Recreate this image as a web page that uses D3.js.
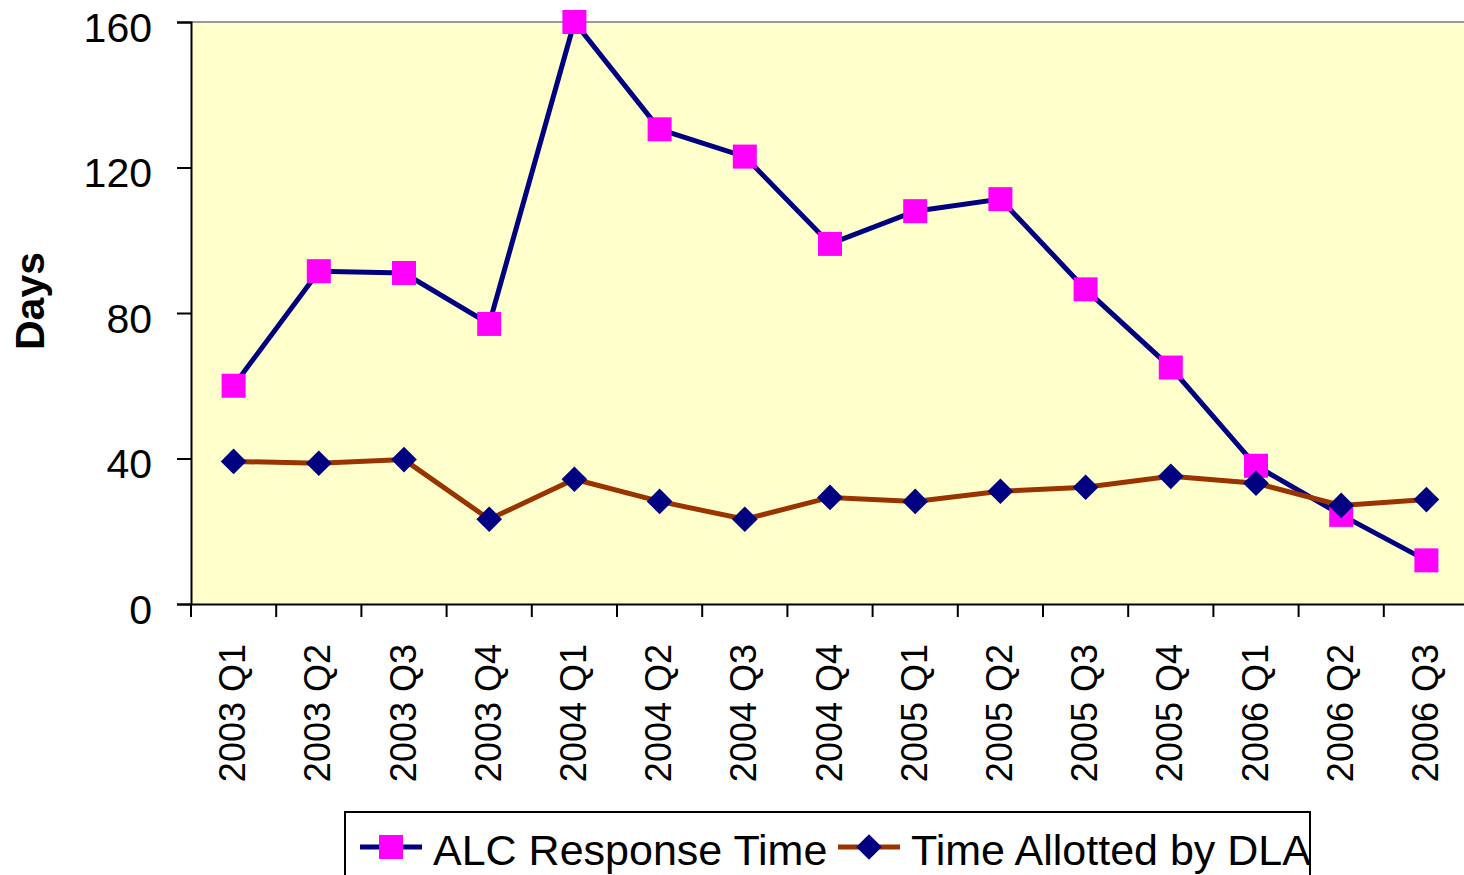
<!DOCTYPE html>
<html>
<head>
<meta charset="utf-8">
<script src="https://cdn.jsdelivr.net/npm/d3@7"></script>
<style>
  body { margin: 0; background: #fff; }
  svg { display: block; font-family: "Liberation Sans", Arial, sans-serif; }
</style>
</head>
<body>
<svg width="1464" height="875"></svg>
<script>
const quarters = ["2003 Q1","2003 Q2","2003 Q3","2003 Q4","2004 Q1","2004 Q2","2004 Q3","2004 Q4",
  "2005 Q1","2005 Q2","2005 Q3","2005 Q4","2006 Q1","2006 Q2","2006 Q3"]
const alcResponse = [60, 91.5, 91, 77, 160, 130.5, 123, 99, 108, 111.3, 86.5, 65, 38, 24.5, 12]
const dlaAllotted = [39.2, 38.7, 39.7, 23.3, 34.3, 28.2, 23.3, 29.3, 28.2, 31, 32.1, 35.1, 33.2, 27.1, 28.7]
const yTicks = [0, 40, 80, 120, 160]

const svg = d3.select("svg")
const plotLeft = 191, plotTop = 22, plotBottom = 604
const plotRight = plotLeft + 15 * 85.2

const x = d3.scaleBand().domain(quarters).range([plotLeft, plotRight])
const y = d3.scaleLinear().domain([0, 160]).range([plotBottom, plotTop])

// plot background
svg.append("rect")
  .attr("x", plotLeft).attr("y", plotTop)
  .attr("width", plotRight - plotLeft).attr("height", plotBottom - plotTop)
  .attr("fill", "#FFFFCC")
svg.append("line")
  .attr("x1", plotLeft).attr("x2", plotRight)
  .attr("y1", plotTop).attr("y2", plotTop)
  .attr("stroke", "#999").attr("stroke-width", 2)

// y axis
const yAxis = svg.append("g")
  .attr("transform", `translate(${plotLeft},0)`)
  .call(d3.axisLeft(y).tickValues(yTicks).tickSize(14).tickPadding(25))
yAxis.select(".domain").attr("stroke", "#000").attr("stroke-width", 2)
yAxis.selectAll(".tick line").attr("stroke", "#000").attr("stroke-width", 2)
yAxis.selectAll(".tick text")
  .attr("font-size", 41).attr("fill", "#000")
  .attr("font-family", "Liberation Sans, Arial, sans-serif")
  .attr("dy", "0.47em")

// x axis
const xAxis = svg.append("g")
  .attr("transform", `translate(0,${plotBottom})`)
  .call(d3.axisBottom(x).tickSize(0).tickPadding(0))
xAxis.select(".domain").attr("stroke", "#000").attr("stroke-width", 2)
xAxis.selectAll(".tick text")
  .attr("font-size", 36).attr("fill", "#000")
  .attr("font-family", "Liberation Sans, Arial, sans-serif")
  .attr("transform", "rotate(-90)")
  .attr("text-anchor", "end")
  .attr("x", -40).attr("y", -1).attr("dy", "0.35em")
// tick marks between categories
const boundaries = quarters.map(q => x(q)).concat([plotRight])
svg.append("g").selectAll("line")
  .data(boundaries)
  .join("line")
  .attr("x1", d => d).attr("x2", d => d)
  .attr("y1", plotBottom).attr("y2", plotBottom + 13)
  .attr("stroke", "#000").attr("stroke-width", 2)

// y title
svg.append("text")
  .attr("transform", "translate(44,301) rotate(-90)")
  .attr("text-anchor", "middle")
  .attr("font-size", 41).attr("font-weight", "bold")
  .text("Days")

const cx = d => x(d) + x.bandwidth() / 2
const line = d3.line().x(d => cx(d.q)).y(d => y(d.v))

const alcData = quarters.map((q, i) => ({ q, v: alcResponse[i] }))
const dlaData = quarters.map((q, i) => ({ q, v: dlaAllotted[i] }))

// ALC series
svg.append("path").datum(alcData)
  .attr("d", line).attr("fill", "none")
  .attr("stroke", "#000080").attr("stroke-width", 5)
svg.append("g").selectAll("rect")
  .data(alcData)
  .join("rect")
  .attr("x", d => cx(d.q) - 12).attr("y", d => y(d.v) - 12)
  .attr("width", 24).attr("height", 24)
  .attr("fill", "#FF00FF")

// DLA series
svg.append("path").datum(dlaData)
  .attr("d", line).attr("fill", "none")
  .attr("stroke", "#993300").attr("stroke-width", 5)
const diamond = d3.symbol().type(d3.symbolSquare).size(330)
svg.append("g").selectAll("path")
  .data(dlaData)
  .join("path")
  .attr("d", diamond)
  .attr("transform", d => `translate(${cx(d.q)},${y(d.v)}) rotate(45)`)
  .attr("fill", "#000080")

// legend
const legend = svg.append("g")
legend.append("rect")
  .attr("x", 345).attr("y", 812).attr("width", 965).attr("height", 80)
  .attr("fill", "#fff").attr("stroke", "#000").attr("stroke-width", 2)
const legendItems = [
  { label: "ALC Response Time", x: 360, stroke: "#000080", mark: "square" },
  { label: "Time Allotted by DLA", x: 838, stroke: "#993300", mark: "diamond" },
]
legendItems.forEach(it => {
  const ly = 847
  legend.append("line")
    .attr("x1", it.x).attr("x2", it.x + 62)
    .attr("y1", ly).attr("y2", ly)
    .attr("stroke", it.stroke).attr("stroke-width", 5)
  if (it.mark === "square") {
    legend.append("rect")
      .attr("x", it.x + 31 - 12).attr("y", ly - 12)
      .attr("width", 24).attr("height", 24)
      .attr("fill", "#FF00FF")
  } else {
    legend.append("path")
      .attr("d", diamond)
      .attr("transform", `translate(${it.x + 31},${ly}) rotate(45)`)
      .attr("fill", "#000080")
  }
  legend.append("text")
    .attr("x", it.x + 73).attr("y", 865)
    .attr("font-size", 43)
    .text(it.label)
})
</script>
</body>
</html>
